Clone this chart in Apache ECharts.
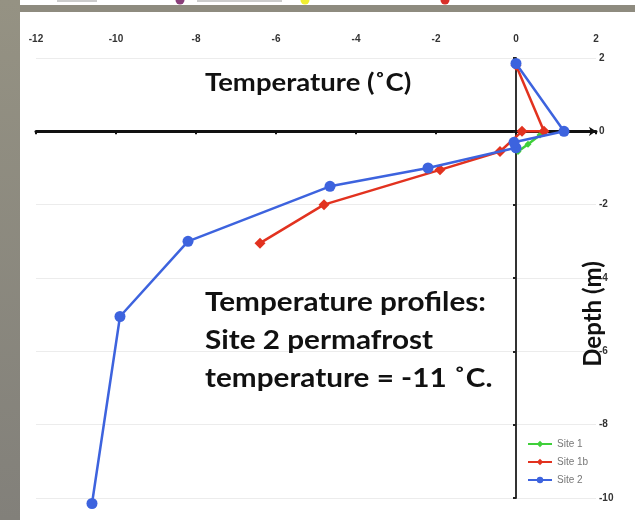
<!DOCTYPE html>
<html>
<head>
<meta charset="utf-8">
<script src="https://cdn.jsdelivr.net/npm/echarts@6/dist/echarts.min.js"></script>
<style>
html,body{margin:0;padding:0;background:#fff;}
#c{width:635px;height:520px;}
</style>
</head>
<body>
<div id="c"></div>
<script>
// ---- data ----
var seriesNames = ['Site 1', 'Site 1b', 'Site 2'];
var site1 = [[0.05, -0.55], [0.3, -0.35], [0.6, -0.1]];
var site1b = [[-6.4, -3.05], [-4.8, -2.0], [-1.9, -1.05], [-0.4, -0.55], [0.15, 0], [0.7, 0], [0.0, 1.8]];
var site2 = [[-10.6, -10.15], [-9.9, -5.05], [-8.2, -3.0], [-4.65, -1.5], [-2.2, -1.0], [0.0, -0.45], [-0.05, -0.3], [1.2, 0], [0.0, 1.85]];
var xTicks = [-12, -10, -8, -6, -4, -2, 0, 2];
var yTicks = [-10, -8, -6, -4, -2, 0, 2];
var titleText = 'Temperature (\u02DAC)';
var noteText = 'Temperature profiles:\nSite 2 permafrost\ntemperature = -11 \u02DAC.';
var yName = 'Depth (m)';

var chart = echarts.init(document.getElementById('c'), null, {renderer: 'canvas'});
var labelStyle = {fontFamily: 'Liberation Sans', fontWeight: 'bold', fontSize: 10, color: '#333'};
var colors = ['#3fcf3a', '#e2321f', '#3d63de'];

var option = {
  animation: false,
  backgroundColor: '#ffffff',
  grid: {left: 36, right: 39, top: 58, bottom: 22},
  xAxis: [
    {type: 'value', min: xTicks[0], max: xTicks[xTicks.length - 1], interval: 2, position: 'top',
     axisLine: {show: false}, axisTick: {show: false}, splitLine: {show: false},
     axisLabel: Object.assign({margin: 14}, labelStyle)},
    {type: 'value', min: xTicks[0], max: xTicks[xTicks.length - 1], interval: 2, position: 'bottom',
     axisLine: {show: true, onZero: true, onZeroAxisIndex: 0, symbol: ['none', 'arrow'], symbolSize: [7, 7],
                lineStyle: {color: '#111', width: 3}},
     axisTick: {show: true, length: 3, lineStyle: {color: '#111', width: 2}},
     axisLabel: {show: false}, splitLine: {show: false}}
  ],
  yAxis: [
    {type: 'value', min: yTicks[0], max: yTicks[yTicks.length - 1], interval: 2, position: 'right',
     axisLine: {show: false}, axisTick: {show: false},
     splitLine: {show: true, lineStyle: {color: '#ececec', width: 1}},
     axisLabel: Object.assign({margin: 3}, labelStyle)},
    {type: 'value', min: yTicks[0], max: yTicks[yTicks.length - 1], interval: 2, position: 'left',
     axisLine: {show: true, onZero: true, onZeroAxisIndex: 0, lineStyle: {color: '#333', width: 2}},
     axisTick: {show: true, length: 3, lineStyle: {color: '#222', width: 2}},
     axisLabel: {show: false}, splitLine: {show: false}}
  ],
  legend: {
    orient: 'vertical', left: 522, top: 434, itemWidth: 24, itemHeight: 8, itemGap: 8,
    textStyle: {fontFamily: 'Liberation Sans', fontSize: 10, color: '#777'},
    data: seriesNames
  },
  series: [
    {name: seriesNames[0], type: 'line', data: site1, color: colors[0], symbol: 'diamond', symbolSize: 7,
     lineStyle: {width: 2.5}, xAxisIndex: 0, yAxisIndex: 0, z: 3, clip: false},
    {name: seriesNames[1], type: 'line', data: site1b, color: colors[1], symbol: 'diamond', symbolSize: 11,
     lineStyle: {width: 2.5}, xAxisIndex: 0, yAxisIndex: 0, z: 4, clip: false},
    {name: seriesNames[2], type: 'line', data: site2, color: colors[2], symbol: 'circle', symbolSize: 11,
     lineStyle: {width: 2.5}, xAxisIndex: 0, yAxisIndex: 0, z: 5, clip: false}
  ],
  graphic: [
    {type: 'text', x: 205, y: 70, scaleX: 1.1, z: 10,
     style: {text: titleText, fontFamily: 'Lato', fontWeight: 'bold', fontSize: 25, fill: '#111'}},
    {type: 'text', x: 205, y: 283, scaleX: 1.1, z: 10,
     style: {text: noteText, fontFamily: 'Lato', fontWeight: 'bold', fontSize: 27, lineHeight: 38, fill: '#111'}},
    {type: 'text', x: 593, y: 314, rotation: Math.PI / 2, z: 10,
     style: {text: yName, fontFamily: 'Lato', fontWeight: 'bold', fontSize: 24, fill: '#111', align: 'center', verticalAlign: 'middle'}},
    {type: 'circle', shape: {cx: 180, cy: 0, r: 4.5}, style: {fill: '#8a3f7a'}, z: 20},
    {type: 'circle', shape: {cx: 305, cy: 0, r: 4.5}, style: {fill: '#f0ee30'}, z: 20},
    {type: 'circle', shape: {cx: 445, cy: 0, r: 4.5}, style: {fill: '#d8302a'}, z: 20},
    {type: 'rect', shape: {x: 57, y: 0, width: 40, height: 2}, style: {fill: '#999', opacity: 0.5}, z: 20},
    {type: 'rect', shape: {x: 197, y: 0, width: 85, height: 2}, style: {fill: '#999', opacity: 0.5}, z: 20},
    {type: 'rect', shape: {x: 0, y: 5, width: 635, height: 7}, style: {fill: '#8e8b7f'}, z: 30},
    {type: 'rect', shape: {x: 0, y: 0, width: 20, height: 520},
     style: {fill: new echarts.graphic.LinearGradient(0, 0, 0, 1, [{offset: 0, color: '#959283'}, {offset: 1, color: '#82807a'}])}, z: 30}
  ]
};
chart.setOption(option);
</script>
</body>
</html>
